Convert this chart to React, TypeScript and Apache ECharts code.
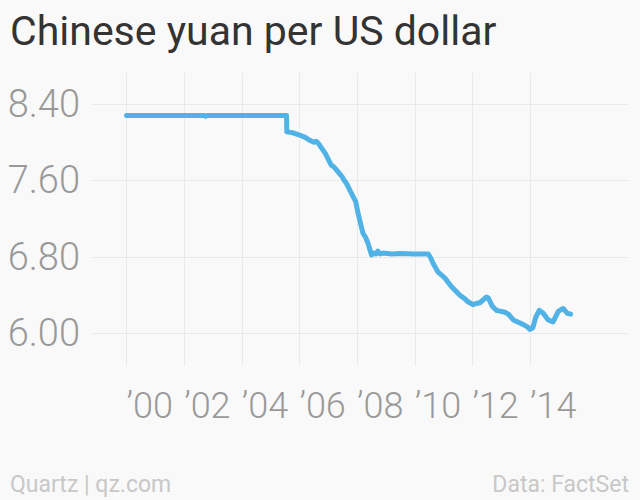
import React, { useEffect, useRef } from "react";
import * as echarts from "echarts";

const TITLE = "Chinese yuan per US dollar";
const SOURCE_LEFT = "Quartz | qz.com";
const SOURCE_RIGHT = "Data: FactSet";

// decimal years and CNY per USD
const years = [
  2000.0, 2002.7, 2002.74, 2002.78, 2005.55, 2005.56, 2005.75, 2006.0, 2006.2, 2006.36,
  2006.5, 2006.58, 2006.65, 2006.9, 2007.1, 2007.2, 2007.34, 2007.5, 2007.55, 2007.63,
  2007.86, 2007.95, 2008.03, 2008.2, 2008.3, 2008.38, 2008.5, 2008.58, 2008.65, 2008.72,
  2008.8, 2008.9, 2009.2, 2009.5, 2010.0, 2010.47, 2010.55, 2010.64, 2010.81, 2011.04,
  2011.27, 2011.56, 2011.7, 2011.85, 2012.02, 2012.1, 2012.26, 2012.49, 2012.55, 2012.7,
  2012.84, 2013.13, 2013.25, 2013.42, 2013.71, 2013.9, 2014.0, 2014.1, 2014.2, 2014.32,
  2014.46, 2014.63, 2014.8, 2014.98, 2015.15, 2015.29, 2015.41,
];
const rates = [
  8.28, 8.28, 8.27, 8.28, 8.28, 8.11, 8.1, 8.075, 8.05, 8.02,
  8.0, 8.01, 7.99, 7.88, 7.76, 7.74, 7.69, 7.63, 7.6, 7.57,
  7.43, 7.38, 7.26, 7.05, 7.0, 6.94, 6.82, 6.84, 6.83, 6.86,
  6.83, 6.84, 6.83, 6.835, 6.83, 6.83, 6.79, 6.73, 6.64, 6.58,
  6.49, 6.4, 6.37, 6.33, 6.3, 6.31, 6.32, 6.38, 6.37, 6.28,
  6.24, 6.22, 6.2, 6.14, 6.1, 6.07, 6.04, 6.06, 6.17, 6.24,
  6.21, 6.14, 6.12, 6.23, 6.26, 6.21, 6.2,
];

const xTicks = [2000, 2002, 2004, 2006, 2008, 2010, 2012, 2014];
const yTicks = [6.0, 6.8, 7.6, 8.4];

export default function App() {
  const ref = useRef<HTMLDivElement>(null);
  useEffect(() => {
    if (!ref.current) return;
    const chart = echarts.init(ref.current, null, { renderer: "svg" });
    const font = "Roboto";
    chart.setOption({
      animation: false,
      backgroundColor: "#f9f9f9",
      grid: { left: 92, right: 12, top: 73, bottom: 134 },
      xAxis: {
        type: "value",
        min: 1998.8,
        max: 2017.4,
        axisLine: { show: false },
        axisTick: { show: false, customValues: xTicks },
        splitLine: { show: true, lineStyle: { color: "#e9e9e9", width: 1 } },
        axisLabel: {
          customValues: xTicks,
          align: "left",
          margin: 22,
          fontFamily: font,
          fontWeight: 300,
          fontSize: 36,
          color: "#999999",
          formatter: (v: number) => "\u2019" + String(Math.round(v)).slice(2),
        },
      },
      yAxis: {
        type: "value",
        min: 5.658,
        max: 8.724,
        axisLine: { show: false },
        axisTick: { show: false, customValues: yTicks },
        splitLine: { show: true, lineStyle: { color: "#e9e9e9", width: 1 } },
        axisLabel: {
          customValues: yTicks,
          margin: 12,
          fontFamily: font,
          fontWeight: 300,
          fontSize: 38,
          color: "#999999",
          formatter: (v: number) => v.toFixed(2),
        },
      },
      series: [
        {
          type: "line",
          showSymbol: false,
          data: years.map((y, i) => [y, rates[i]]),
          lineStyle: { color: "#51b2e5", width: 5, join: "round", cap: "round" },
          itemStyle: { color: "#51b2e5" },
        },
      ],
      graphic: [
        {
          type: "text",
          left: 10,
          top: 10,
          style: {
            text: TITLE,
            fontFamily: font,
            fontSize: 41,
            fill: "#333333",
          },
        },
        {
          type: "text",
          left: 10,
          top: 473,
          style: {
            text: SOURCE_LEFT,
            fontFamily: font,
            fontSize: 23,
            fill: "#c8c8c8",
          },
        },
        {
          type: "text",
          right: 11,
          top: 473,
          style: {
            text: SOURCE_RIGHT,
            fontFamily: font,
            fontSize: 23,
            fill: "#c8c8c8",
          },
        },
      ],
    });
    return () => chart.dispose();
  }, []);
  return <div ref={ref} style={{ width: 640, height: 500, position: "absolute", left: 0, top: 0 }} />;
}
